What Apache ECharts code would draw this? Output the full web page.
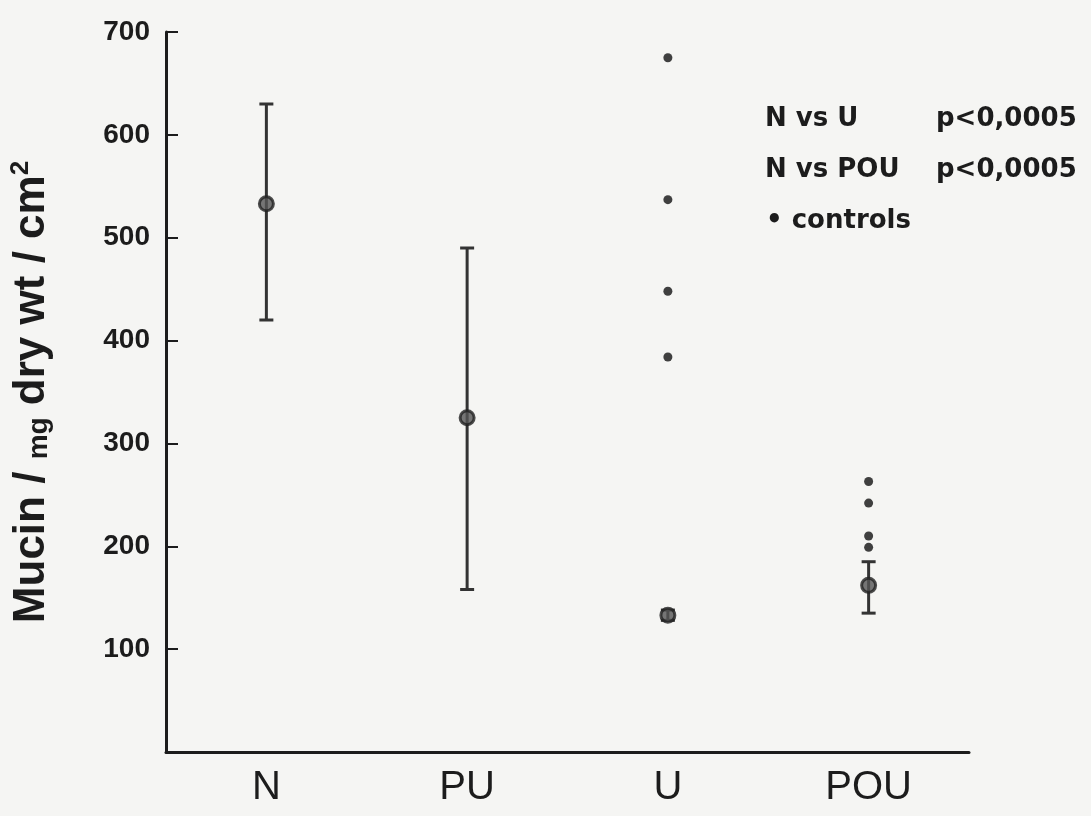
<!DOCTYPE html>
<html lang="en">
<head>
    <meta charset="UTF-8">
    <title>Mucin</title>
    <style>
        html, body { margin: 0; padding: 0; background: #f5f5f3; }
        #chart { width: 1091px; height: 816px; }
    </style>
</head>
<body>
    <div id="chart"></div>
<script src="https://cdn.jsdelivr.net/npm/echarts@6/dist/echarts.min.js"></script>
<script type="text/javascript">
    // groups and values
    const categories = ['N', 'PU', 'U', 'POU'];
    const means = [533, 325, 133, 162];
    const lower = [420, 158, 128, 135];
    const upper = [630, 490, 138, 185];
    const controlsU = [675, 537, 448, 384];
    const controlsPOU = [263, 242, 210, 199];
    const yTicks = [0, 700, 100]; // min, max, interval

    const ink = '#1c1c1c';
    const font = '"Liberation Sans", Arial, sans-serif';
    const noteFont = 'bold 26px "DejaVu Sans", sans-serif';

    const errData = categories.map((c, i) => [i, lower[i], upper[i]]);
    const meanData = categories.map((c, i) => [i, means[i]]);
    const ctrlData = [];
    controlsU.forEach(v => ctrlData.push([2, v]));
    controlsPOU.forEach(v => ctrlData.push([3, v]));

    let chart = echarts.init(document.getElementById('chart'));
    chart.setOption({
        backgroundColor: '#f5f5f3',
        animation: false,
        grid: { left: 166, right: 122, top: 32, bottom: 64 },
        xAxis: {
            type: 'category',
            data: categories,
            boundaryGap: true,
            axisLine: { lineStyle: { color: ink, width: 3 } },
            axisTick: { alignWithLabel: true, inside: true, length: 14, lineStyle: { color: ink, width: 2 } },
            axisLabel: {
                color: ink, fontSize: 40, fontFamily: font,
                margin: 16
            }
        },
        yAxis: {
            type: 'value',
            min: yTicks[0], max: yTicks[1], interval: yTicks[2],
            splitLine: { show: false },
            axisLine: { show: true, lineStyle: { color: ink, width: 3 } },
            axisTick: { show: true, inside: true, length: 12, lineStyle: { color: ink, width: 2 } },
            axisLabel: {
                color: ink, fontSize: 28, fontWeight: 'bold', fontFamily: font, margin: 16,
                formatter: v => v === 0 ? '' : v
            },
            name: 'Mucin / {s|mg} dry wt / cm{sup|2}',
            nameLocation: 'middle',
            nameRotate: 90,
            nameGap: 110,
            nameTextStyle: {
                color: ink, fontSize: 44, fontWeight: 'bold', fontFamily: font,
                rich: {
                    s: { fontSize: 28, fontWeight: 'bold', fontFamily: font, color: ink, padding: [14, 0, 0, 0] },
                    sup: { fontSize: 26, fontWeight: 'bold', fontFamily: font, color: ink, padding: [0, 0, 22, 0] }
                }
            }
        },
        series: [{
            type: 'custom',
            data: errData,
            renderItem(params, api) {
                const lo = api.coord([api.value(0), api.value(1)]);
                const hi = api.coord([api.value(0), api.value(2)]);
                const w = 7;
                const style = { stroke: '#333', lineWidth: 3 };
                return {
                    type: 'group',
                    children: [
                        { type: 'line', shape: { x1: lo[0], y1: lo[1], x2: hi[0], y2: hi[1] }, style },
                        { type: 'line', shape: { x1: lo[0] - w, y1: lo[1], x2: lo[0] + w, y2: lo[1] }, style },
                        { type: 'line', shape: { x1: hi[0] - w, y1: hi[1], x2: hi[0] + w, y2: hi[1] }, style }
                    ]
                };
            },
            z: 2
        }, {
            type: 'scatter',
            data: meanData,
            symbol: 'circle',
            symbolSize: 14,
            itemStyle: { color: '#555', borderColor: '#222', borderWidth: 3 },
            z: 3
        }, {
            type: 'scatter',
            data: ctrlData,
            symbol: 'circle',
            symbolSize: 9,
            itemStyle: { color: '#111' },
            z: 3
        }],
        graphic: [
            { type: 'text', left: 765, top: 106, style: { text: 'N vs U', font: noteFont, fill: ink } },
            { type: 'text', left: 936, top: 106, style: { text: 'p<0,0005', font: noteFont, fill: ink } },
            { type: 'text', left: 765, top: 157, style: { text: 'N vs POU', font: noteFont, fill: ink } },
            { type: 'text', left: 936, top: 157, style: { text: 'p<0,0005', font: noteFont, fill: ink } },
            { type: 'text', left: 766, top: 208, style: { text: '• controls', font: noteFont, fill: ink } }
        ]
    });
</script>
</body>
</html>
